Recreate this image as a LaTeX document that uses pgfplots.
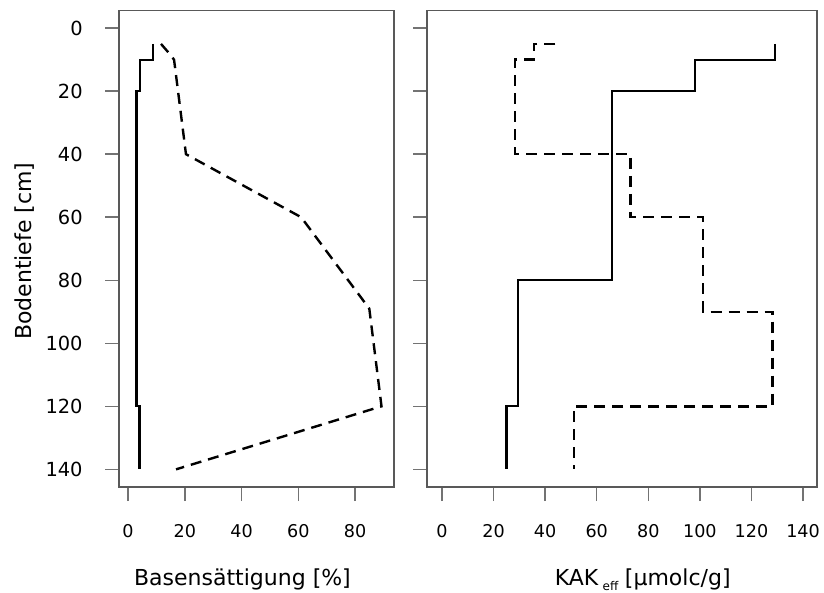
\documentclass[border=0pt]{standalone}
\usepackage{fontspec}
\setmainfont{DejaVu Sans}
\usepackage{pgfplots}
\pgfplotsset{compat=1.18}
\definecolor{boxgray}{gray}{0.35}
\definecolor{tickgray}{gray}{0.45}
\pgfplotsset{
  soilpanel/.style={
    scale only axis, height=238.25pt, y dir=reverse,
    ymin=-5.6, ymax=145.6, ytick={0,20,...,140},
    axis line style={boxgray, line width=0.75pt},
    tick align=outside, major tick length=7pt,
    tick style={tickgray, line width=0.75pt},
    xtick pos=bottom, ytick pos=left, minor tick num=0,
    /pgf/number format/assume math mode=true,
    xticklabel style={font=\fontsize{8.8}{10}\selectfont, anchor=base, yshift=-18pt},
    yticklabel style={font=\fontsize{9.7}{11}\selectfont, anchor=east, inner sep=0pt, xshift=-11pt},
    label style={font=\fontsize{11}{13}\selectfont},
  },
  solid line/.style={black, line width=1.15pt},
  dash line/.style={black, line width=1.2pt, dash pattern=on 5.5pt off 3.5pt},
}
\begin{document}
\begin{tikzpicture}
\useasboundingbox (0,0) rectangle (412pt,296.5pt);
% left panel: Basensaettigung
\begin{axis}[soilpanel, at={(59.5pt,53pt)}, anchor=south west, width=137.5pt,
  xmin=-3.2, xmax=93.7, xtick={0,20,...,80},
  xlabel={Basensättigung [\%]},
  xlabel style={at={(axis description cs:0.449,-0.207)}, anchor=base},
  ylabel={Bodentiefe [cm]},
  ylabel style={at={(axis description cs:-0.3164,0.495)}, rotate=0, anchor=base}]
\addplot[solid line] coordinates {(8.8,5) (8.8,10) (4.2,10) (4.2,20) (3,20) (3,120) (4,120) (4,140)};
\addplot[dash line] coordinates {(11.6,5) (14,7.5) (16.2,10) (20.4,40) (61,60) (85,89) (89.3,120) (16.9,140)};
\end{axis}
% right panel: KAK_eff
\begin{axis}[soilpanel, at={(213.5pt,53pt)}, anchor=south west, width=195pt,
  xmin=-5.8, xmax=145.4, xtick={0,20,...,140}, yticklabels={},
  xlabel={KAK\hspace{0.2em}\raisebox{-2.2pt}{\fontsize{6}{7}\selectfont eff}\hspace{0.3em}[µmolc/g]},
  xlabel style={at={(axis description cs:0.553,-0.207)}, anchor=base}]
\addplot[solid line] coordinates {(129,5) (129,10) (98,10) (98,20) (66,20) (66,80) (29.4,80) (29.4,120) (25,120) (25,140)};
\addplot[dash line] coordinates {(44,5) (35.7,5) (35.7,10) (28.3,10) (28.3,40) (73.1,40) (73.1,60) (101.3,60) (101.3,90) (128.2,90) (128.2,120) (51.3,120) (51.3,140)};
\end{axis}
\end{tikzpicture}
\end{document}
